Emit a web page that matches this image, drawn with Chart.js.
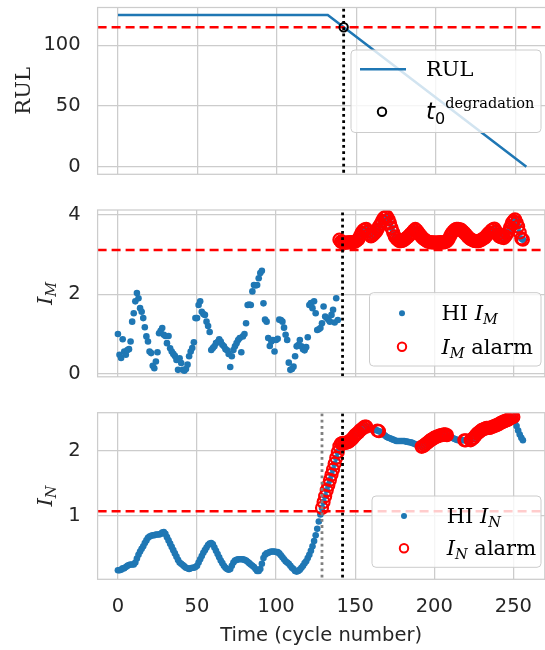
<!DOCTYPE html>
<html lang="en">
<head>
<meta charset="UTF-8" />
<title>RUL and health indicators</title>
<script src="https://cdn.jsdelivr.net/npm/chart.js@4.4.1/dist/chart.umd.min.js"></script>
<style>
  html, body { margin: 0; padding: 0; background: #fff; width: 545px; height: 650px; overflow: hidden; }
  canvas { position: absolute; left: 0; }
</style>
</head>
<body>
<canvas id="rul" width="553" height="182" style="top:0px"></canvas>
<canvas id="im" width="553" height="195" style="top:190px"></canvas>
<canvas id="in" width="553" height="255" style="top:395px"></canvas>

<script>
// ---- data ----
const xTicks = [0, 50, 100, 150, 200, 250];

const rulCycles = [0, 132, 257];
const rulValues = [125, 125, 0];
const rulTicks = [0, 50, 100];
const rulThreshold = 115;
const degradationCycle = 142;
const degradationRul = 115;

// HI I_M, one value per cycle (0..256)
const imValues = [
  1.00,0.48,0.40,0.87,0.56,0.48,0.60,0.62,0.81,1.31,
  1.52,1.82,2.03,1.90,1.65,1.56,1.40,1.17,0.94,0.81,
  0.56,0.52,0.20,0.14,0.31,0.54,1.02,1.08,1.15,0.98,
  0.95,0.77,0.95,0.64,0.56,0.50,0.45,0.35,0.10,0.39,
  0.27,0.10,0.08,0.12,0.23,0.44,0.56,0.65,0.79,1.40,
  1.40,1.73,1.82,1.56,1.50,1.48,1.31,1.20,1.05,0.60,
  0.65,0.69,0.77,0.80,0.87,0.81,0.73,0.69,0.62,0.59,
  0.50,0.17,0.44,0.60,0.69,0.77,0.85,0.90,0.54,0.94,
  1.00,1.27,1.73,1.74,1.73,2.07,2.23,2.22,2.23,2.40,
  2.53,2.59,1.77,1.36,1.31,0.90,0.70,0.81,0.85,0.56,
  0.85,0.88,1.36,1.35,1.31,1.16,0.98,0.85,0.28,0.10,
  0.12,0.18,0.44,0.69,0.72,0.85,0.69,0.62,0.59,0.67,
  0.92,1.73,1.78,1.65,1.82,1.52,1.10,1.12,1.15,1.27,
  1.69,1.44,1.40,1.36,1.31,1.48,1.61,1.29,1.90,1.35,
  3.37,3.32,3.30,3.30,3.29,3.30,3.30,3.31,3.30,3.31,
  3.32,3.35,3.38,3.46,3.54,3.60,3.63,3.64,3.58,3.50,
  3.45,3.48,3.52,3.56,3.62,3.70,3.76,3.84,3.91,3.94,
  3.95,3.88,3.79,3.66,3.55,3.45,3.40,3.36,3.33,3.33,
  3.34,3.36,3.40,3.43,3.47,3.51,3.55,3.60,3.64,3.60,
  3.54,3.49,3.44,3.40,3.37,3.34,3.32,3.31,3.30,3.30,
  3.30,3.29,3.30,3.30,3.31,3.30,3.30,3.31,3.33,3.38,
  3.46,3.53,3.58,3.62,3.64,3.64,3.63,3.62,3.58,3.54,
  3.50,3.45,3.41,3.38,3.36,3.34,3.33,3.33,3.33,3.35,
  3.37,3.40,3.42,3.47,3.52,3.55,3.60,3.63,3.65,3.58,
  3.50,3.45,3.43,3.42,3.41,3.46,3.52,3.58,3.68,3.79,
  3.84,3.88,3.80,3.70,3.55,3.40,3.37
];
const imAlarmRanges = [[140, 256]];
const imThreshold = 3.11;
const imTicks = [0, 2, 4];

// HI I_N, one value per cycle (0..256)
const inValues = [
  0.16,0.16,0.17,0.19,0.19,0.21,0.23,0.24,0.25,0.25,
  0.25,0.28,0.34,0.40,0.45,0.49,0.53,0.58,0.62,0.66,
  0.68,0.69,0.70,0.70,0.71,0.71,0.71,0.72,0.74,0.75,
  0.72,0.67,0.62,0.57,0.52,0.47,0.42,0.37,0.32,0.28,
  0.26,0.24,0.22,0.20,0.19,0.18,0.19,0.20,0.20,0.21,
  0.23,0.28,0.33,0.38,0.43,0.47,0.51,0.55,0.57,0.58,
  0.56,0.51,0.46,0.41,0.36,0.31,0.27,0.23,0.20,0.18,
  0.17,0.18,0.23,0.28,0.31,0.32,0.33,0.33,0.33,0.33,
  0.32,0.31,0.29,0.27,0.25,0.23,0.21,0.18,0.15,0.15,
  0.18,0.26,0.35,0.40,0.42,0.43,0.44,0.45,0.45,0.45,
  0.44,0.44,0.42,0.39,0.36,0.33,0.30,0.28,0.26,0.23,
  0.20,0.18,0.15,0.14,0.15,0.17,0.20,0.23,0.27,0.30,
  0.35,0.40,0.46,0.53,0.61,0.70,0.80,0.91,1.02,1.12,
  1.21,1.30,1.39,1.47,1.55,1.63,1.71,1.80,1.89,1.98,
  2.07,2.11,2.12,2.12,2.12,2.13,2.14,2.16,2.18,2.21,
  2.24,2.26,2.28,2.31,2.33,2.35,2.37,2.37,2.37,2.35,
  2.33,2.32,2.32,2.32,2.31,2.30,2.29,2.27,2.25,2.23,
  2.21,2.20,2.19,2.18,2.17,2.16,2.15,2.15,2.15,2.15,
  2.15,2.15,2.14,2.14,2.13,2.13,2.12,2.11,2.10,2.09,
  2.08,2.07,2.06,2.07,2.09,2.11,2.13,2.15,2.17,2.18,
  2.20,2.21,2.22,2.23,2.24,2.24,2.25,2.25,2.24,2.22,
  2.21,2.20,2.19,2.18,2.17,2.16,2.16,2.16,2.16,2.16,
  2.16,2.15,2.15,2.16,2.18,2.20,2.23,2.26,2.28,2.30,
  2.32,2.33,2.34,2.35,2.35,2.35,2.36,2.37,2.38,2.39,
  2.40,2.41,2.43,2.44,2.45,2.46,2.47,2.48,2.50,2.51,
  2.52,2.45,2.38,2.31,2.25,2.20,2.16
];
const inAlarmRanges = [[129, 157], [164, 165], [192, 208], [219, 220], [223, 250]];
const inThreshold = 1.07;
const inFirstAlarm = 129;
const inTicks = [1, 2];

// ---- look ----
const BLUE = '#1f77b4';
const RED = '#ff0000';
const GRID = '#cccccc';
const TEXT = '#262626';
const SANS = '"DejaVu Sans", sans-serif';
const SERIF = '"DejaVu Serif", serif';
const xMin = -12.85, xMax = 269.85;

function toPoints(values) {
  return values.map((v, i) => ({ x: i, y: v }));
}
function alarmPoints(values, ranges) {
  return toPoints(values).filter(p => ranges.some(([a, b]) => p.x >= a && p.x <= b));
}
function hLine(y) { return [{ x: xMin, y }, { x: xMax, y }]; }
function vLine(x, lo, hi) { return [{ x, y: lo }, { x, y: hi }]; }

function lineSet(points, color, width, dash, order) {
  return { type: 'line', data: points, borderColor: color, borderWidth: width, borderDash: dash,
           borderCapStyle: 'butt', pointRadius: 0, fill: false, tension: 0, order };
}
function dotSet(points, order) {
  return { data: points, pointRadius: 3.3, pointBackgroundColor: BLUE, pointBorderWidth: 0, order };
}
function ringSet(points, order) {
  return { data: points, pointRadius: 6, pointBackgroundColor: 'rgba(0,0,0,0)',
           pointBorderColor: RED, pointBorderWidth: 2.2, order };
}

// rich text: pieces of serif/italic text with sub/superscripts
function partFont(p) {
  const fam = p.sans ? SANS : SERIF;
  return (p.i ? 'italic ' : '') + (p.s || 21) + 'px ' + fam;
}
function richWidth(ctx, parts) {
  return parts.reduce((w, p) => { ctx.font = partFont(p); return w + ctx.measureText(p.t).width; }, 0);
}
function drawRich(ctx, parts, x, y) {
  parts.forEach(p => {
    ctx.font = partFont(p);
    ctx.fillText(p.t, x, y + (p.dy || 0));
    x += ctx.measureText(p.t).width;
  });
}

function drawMarker(ctx, kind, x, y) {
  ctx.beginPath();
  if (kind === 'line') {
    ctx.strokeStyle = BLUE; ctx.lineWidth = 2.5;
    ctx.moveTo(x - 23, y); ctx.lineTo(x + 23, y); ctx.stroke();
  } else if (kind === 'dot') {
    ctx.fillStyle = BLUE; ctx.arc(x, y, 3, 0, Math.PI * 2); ctx.fill();
  } else {
    ctx.strokeStyle = kind === 'ring' ? RED : '#000'; ctx.lineWidth = 2;
    ctx.arc(x, y, 4.2, 0, Math.PI * 2); ctx.stroke();
  }
}

const decor = {
  id: 'decor',
  afterDraw(chart, args, o) {
    const ctx = chart.ctx, a = chart.chartArea;
    ctx.save();
    ctx.strokeStyle = GRID; ctx.lineWidth = 1.25;
    ctx.strokeRect(a.left, a.top, a.right - a.left, a.bottom - a.top);

    // y axis label, rotated
    ctx.fillStyle = TEXT;
    ctx.textBaseline = 'alphabetic';
    ctx.save();
    ctx.translate(o.titleX, (a.top + a.bottom) / 2);
    ctx.rotate(-Math.PI / 2);
    drawRich(ctx, o.title, -richWidth(ctx, o.title) / 2, 7);
    ctx.restore();

    // legend box
    const [x1, y1, x2, y2] = o.box.map((v, i) => i % 2 ? v - o.top : v);
    ctx.beginPath();
    ctx.roundRect(x1, y1, x2 - x1, y2 - y1, 4);
    ctx.fillStyle = 'rgba(255,255,255,0.8)';
    ctx.fill();
    ctx.strokeStyle = GRID; ctx.lineWidth = 1;
    ctx.stroke();
    o.rows.forEach(r => {
      drawMarker(ctx, r.marker, r.mx, r.y - o.top);
      ctx.fillStyle = '#000';
      drawRich(ctx, r.text, o.textX, r.y - o.top + 7);
    });
    ctx.restore();
  }
};

function noPad(s) {
  s.paddingTop = 0; s.paddingBottom = 0; s.paddingLeft = 0; s.paddingRight = 0;
}

function panel(id, cfg) {
  return new Chart(document.getElementById(id), {
    type: 'scatter',
    data: { datasets: cfg.datasets },
    options: {
      responsive: false,
      animation: false,
      events: [],
      layout: { padding: { top: cfg.padTop, left: 0, right: 0, bottom: 0 } },
      plugins: { legend: { display: false }, tooltip: { enabled: false }, decor: cfg.decor },
      scales: {
        x: {
          type: 'linear', min: xMin, max: xMax,
          afterBuildTicks: s => { s.ticks = xTicks.map(v => ({ value: v })); },
          afterFit: s => { s.height = cfg.xHeight; noPad(s); },
          grid: { color: GRID, lineWidth: 1.25, drawTicks: false },
          border: { display: false },
          ticks: { display: cfg.xLabels, maxRotation: 0, padding: 16, color: TEXT,
                   font: { family: SANS, size: 19.5 } },
          title: { display: cfg.xLabels, text: 'Time (cycle number)', color: TEXT,
                   font: { family: SANS, size: 19.5 }, padding: { top: 0, bottom: 2 } }
        },
        y: {
          min: cfg.yMin, max: cfg.yMax,
          afterBuildTicks: s => { s.ticks = cfg.yTicks.map(v => ({ value: v })); },
          afterFit: s => { s.width = 97.6; noPad(s); },
          grid: { color: GRID, lineWidth: 1.25, drawTicks: false },
          border: { display: false },
          ticks: { padding: 17, color: TEXT, font: { family: SANS, size: 19.5 } }
        }
      }
    },
    plugins: [decor]
  });
}

const DOT = [2.8, 3.4];
const DASH = [9, 5];

// RUL panel
panel('rul', {
  padTop: 7.5, xHeight: 7.7, xLabels: false,
  yMin: -6.25, yMax: 131.25, yTicks: rulTicks,
  datasets: [
    lineSet(rulCycles.map((c, i) => ({ x: c, y: rulValues[i] })), BLUE, 2.5, [], 4),
    lineSet(hLine(rulThreshold), RED, 2.5, DASH, 3),
    lineSet(vLine(degradationCycle, -10, 140), '#000', 2.8, DOT, 2),
    { data: [{ x: degradationCycle, y: degradationRul }], pointRadius: 4.2,
      pointBackgroundColor: 'rgba(0,0,0,0)', pointBorderColor: '#000', pointBorderWidth: 2, order: 1 }
  ],
  decor: {
    top: 0, titleX: 22.6, title: [{ t: 'RUL' }],
    box: [351, 50, 541, 132.5], textX: 426,
    rows: [
      { marker: 'line', mx: 383, y: 69.3, text: [{ t: 'RUL' }] },
      { marker: 'black', mx: 382, y: 111.7,
        text: [{ t: 't', i: 1, sans: 1, s: 23 }, { t: '0', sans: 1, s: 16, dy: 5 },
               { t: 'degradation', s: 14.5, dy: -11 }] }
    ]
  }
});

// I_M panel
panel('im', {
  padTop: 20, xHeight: 8, xLabels: false,
  yMin: -0.075, yMax: 4.115, yTicks: imTicks,
  datasets: [
    dotSet(toPoints(imValues), 4),
    ringSet(alarmPoints(imValues, imAlarmRanges), 3),
    lineSet(hLine(imThreshold), RED, 2.5, DASH, 2),
    lineSet(vLine(degradationCycle, -1, 5), '#000', 2.8, DOT, 1)
  ],
  decor: {
    top: 190, titleX: 45,
    title: [{ t: 'I', i: 1 }, { t: 'M', i: 1, s: 14.5, dy: 4 }],
    box: [369.5, 292.7, 541, 366], textX: 441.5,
    rows: [
      { marker: 'dot', mx: 402, y: 313.3,
        text: [{ t: 'HI ' }, { t: 'I', i: 1 }, { t: 'M', i: 1, s: 14.5, dy: 4 }] },
      { marker: 'ring', mx: 402, y: 346.7,
        text: [{ t: 'I', i: 1 }, { t: 'M', i: 1, s: 14.5, dy: 4 }, { t: ' alarm' }] }
    ]
  }
});

// I_N panel
panel('in', {
  padTop: 17.7, xHeight: 70.7, xLabels: true,
  yMin: 0.0215, yMax: 2.585, yTicks: inTicks,
  datasets: [
    dotSet(toPoints(inValues), 5),
    ringSet(alarmPoints(inValues, inAlarmRanges), 4),
    lineSet(hLine(inThreshold), RED, 2.5, DASH, 3),
    lineSet(vLine(inFirstAlarm, -1, 3), '#808080', 2.8, DOT, 2),
    lineSet(vLine(degradationCycle, -1, 3), '#000', 2.8, DOT, 1)
  ],
  decor: {
    top: 395, titleX: 45,
    title: [{ t: 'I', i: 1 }, { t: 'N', i: 1, s: 14.5, dy: 4 }],
    box: [372, 496, 541, 567.3], textX: 446.7,
    rows: [
      { marker: 'dot', mx: 404, y: 516,
        text: [{ t: 'HI ' }, { t: 'I', i: 1 }, { t: 'N', i: 1, s: 14.5, dy: 4 }] },
      { marker: 'ring', mx: 404, y: 548.3,
        text: [{ t: 'I', i: 1 }, { t: 'N', i: 1, s: 14.5, dy: 4 }, { t: ' alarm' }] }
    ]
  }
});
</script>
</body>
</html>
